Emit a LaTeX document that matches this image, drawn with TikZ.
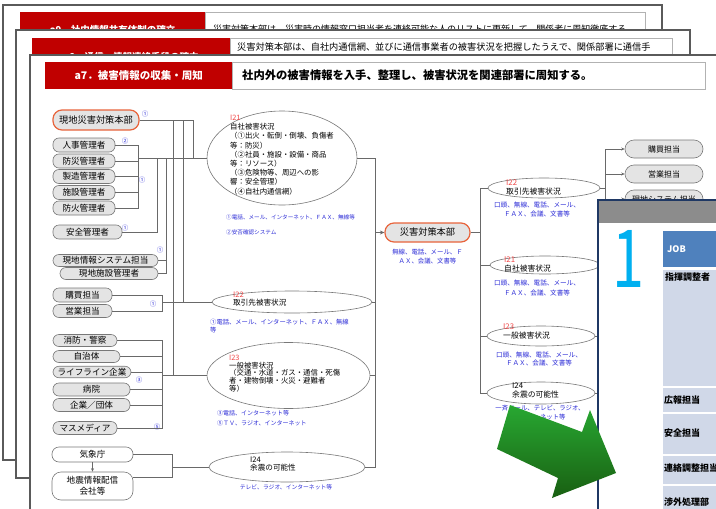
\documentclass[tikz,border=0pt]{standalone}
\usepackage{fontspec}
\setmainfont{Noto Sans CJK JP}
\usetikzlibrary{shapes.geometric,arrows.meta}
\definecolor{hred}{RGB}{192,0,0}
\definecolor{frameg}{RGB}{90,90,90}
\definecolor{nfill}{RGB}{228,228,228}
\definecolor{nborder}{RGB}{120,120,120}
\definecolor{orng}{RGB}{232,100,60}
\definecolor{lblue}{RGB}{45,45,215}
\definecolor{ired}{RGB}{240,70,70}
\definecolor{lineg}{RGB}{105,105,105}
\definecolor{navy}{RGB}{31,56,100}
\definecolor{jobblue}{RGB}{79,129,189}
\definecolor{tbg}{RGB}{208,216,232}
\definecolor{onecyan}{RGB}{0,176,240}
\definecolor{ghead}{RGB}{140,140,140}
\definecolor{arrlight}{RGB}{40,168,50}
\definecolor{arrdark}{RGB}{25,95,18}
\newcommand\fsz[2]{\fontsize{#1}{#2}\selectfont}
\begin{document}
\begin{tikzpicture}[x=1pt,y=-1pt,
  pill/.style={draw=nborder, fill=nfill, rounded corners=6, inner sep=0, line width=0.6, font=\fsz{8.6}{9}},
  hq/.style={pill, draw=orng, line width=1.2, rounded corners=9, font=\fsz{9.2}{10}},
  wbox/.style={draw=nborder, fill=white, rounded corners=7, inner sep=0, line width=0.6, font=\fsz{8.6}{11}, align=center},
  ell/.style={draw=nborder, ellipse, inner sep=0, line width=0.6, fill=white},
  etext/.style={align=left, inner sep=0, font=\fsz{7.4}{9.2}},
  blbl/.style={text=lblue, inner sep=0, font=\fsz{6.3}{8.5}},
  cnum/.style={text=lblue, inner sep=0, font=\fsz{6.5}{7}},
  conn/.style={draw=lineg, line width=0.6},
  rbox/.style={pill, minimum width=78, minimum height=18, rounded corners=9, font=\fsz{8}{9}},
  tip/.style={-{Stealth[length=3.5pt,width=3pt]}},
  hdr/.style={fill=hred, text=white, anchor=north west, inner sep=0, font=\bfseries\fsz{9.5}{10}},
  hdw/.style={draw=gray!60, fill=white, anchor=north west, inner sep=0},
  frame/.style={draw=frameg, line width=1.3, fill=white},
  rowtext/.style={anchor=west, inner sep=0, font=\bfseries\fsz{9}{10}}
]
\useasboundingbox (0,0) rectangle (716,509);
% ---------- background pages ----------
\draw[frame] (3,5) rectangle (662,460);
\node[hdr, minimum width=185, minimum height=36] (h9r) at (20,12) {a9．社内情報共有体制の確立};
\node[hdw, minimum width=440, minimum height=36] (h9w) at (205,12) {};
\node[anchor=west, inner sep=0, font=\fsz{9}{10}] (h9t) at (213,29) {災害対策本部は、災害時の情報窓口担当者を連絡可能な人のリストに更新して、関係者に周知徹底する。};
\draw[frame] (16,30) rectangle (690,478);
\node[hdr, minimum width=198, minimum height=38] (h8r) at (32,38) {a8．通信・情報連絡手段の確立};
\node[hdw, minimum width=442, minimum height=38] (h8w) at (230,38) {};
\node[anchor=west, inner sep=0, font=\fsz{9.2}{10}] (h8t) at (237,47) {災害対策本部は、自社内通信網、並びに通信事業者の被害状況を把握したうえで、関係部署に通信手};
\draw[frame] (30,55) rectangle (740,530);
\node[hdr, minimum width=187, minimum height=27, font=\bfseries\fsz{10.5}{11}] (h7r) at (45,62) {a7．被害情報の収集・周知};
\node[hdw, minimum width=473, minimum height=27] (h7w) at (232,62) {};
\node[anchor=west, inner sep=0, font=\bfseries\fsz{11.3}{12}] (h7t) at (242,75.5) {社内外の被害情報を入手、整理し、被害状況を関連部署に周知する。};
% ---------- left nodes ----------
\node[hq, minimum width=86, minimum height=20] (genchi) at (96,120) {現地災害対策本部};
\node[pill, minimum width=62, minimum height=14] (jinji) at (84,145) {人事管理者};
\node[pill, minimum width=62, minimum height=14] (bousai) at (84,161) {防災管理者};
\node[pill, minimum width=62, minimum height=14] (seizou) at (84,176.5) {製造管理者};
\node[pill, minimum width=62, minimum height=14] (shisetsu) at (84,192.5) {施設管理者};
\node[pill, minimum width=62, minimum height=14] (bouka) at (84,208) {防火管理者};
\node[pill, minimum width=69, minimum height=14] (anzen) at (87.5,232) {安全管理者};
\node[pill, minimum width=105, minimum height=12] (gjsys) at (105.5,260.5) {現地情報システム担当};
\node[pill, minimum width=98, minimum height=12] (gjshi) at (109,273.5) {現地施設管理者};
\node[pill, minimum width=59, minimum height=14] (koubai) at (82.5,295) {購買担当};
\node[pill, minimum width=59, minimum height=13] (eigyou) at (82.5,311) {営業担当};
\node[pill, minimum width=64, minimum height=12] (shoubou) at (85,340.5) {消防・警察};
\node[pill, minimum width=67, minimum height=12] (jichitai) at (86.5,356.5) {自治体};
\node[pill, minimum width=78, minimum height=11.5] (life) at (92,372) {ライフライン企業};
\node[pill, minimum width=77, minimum height=13] (byouin) at (91.5,389.5) {病院};
\node[pill, minimum width=77, minimum height=13] (kigyou) at (91.5,405) {企業／団体};
\node[pill, minimum width=64, minimum height=13] (masu) at (85,428) {マスメディア};
\node[wbox, minimum width=81, minimum height=15] (kishou) at (92.5,454.5) {気象庁};
\node[wbox, minimum width=81, minimum height=28, rounded corners=9] (jishin) at (92.5,486) {地震情報配信\\会社等};
\draw[conn, tip] (kishou) -- (jishin);
% circled numbers
\node[cnum] (c1) at (145,114) {①};
\node[cnum] (c2) at (125,141.5) {②};
\node[cnum] (c3) at (142,180) {①};
\node[cnum] (c4) at (125,228) {①};
\node[cnum] (c5) at (160,250) {①};
\node[cnum] (c6) at (153,304) {①};
\node[cnum] (c7) at (139,380) {③};
\node[cnum] (c8) at (157,427) {⑤};
% ---------- left ellipses ----------
\node[ell, minimum width=150, minimum height=94] (i21) at (282,158) {};
\node[etext] (i21t) at (282,155) {{\color{ired}I21}\\自社被害状況\\（①出火・転倒・倒壊、負傷者\\等：防災）\\（②社員・施設・設備・商品\\等：リソース）\\（③危険物等、周辺への影\\響：安全管理）\\（④自社内通信網）};
\node[blbl, anchor=west, font=\fsz{5.6}{7}] (l21a) at (226,217) {①電話、メール、インターネット、ＦＡＸ、無線等};
\node[blbl, anchor=west, font=\fsz{5.6}{7}] (l21b) at (226,232) {②安否確認システム};
\node[ell, minimum width=160, minimum height=22] (i22l) at (292,302) {};
\node[etext, anchor=west, font=\fsz{7.6}{8.4}] (i22lt) at (233,299) {{\color{ired}I22}\\取引先被害状況};
\node[blbl, anchor=west, align=left] (l22) at (210,326) {①電話、メール、インターネット、ＦＡＸ、無線\\等};
\node[ell, minimum width=163, minimum height=66] (i23l) at (288.5,375.5) {};
\node[etext, anchor=north west, font=\fsz{7.4}{7.9}] (i23lt) at (229,354.5) {{\color{ired}I23}\\一般被害状況\\（交通・水道・ガス・通信・死傷\\者・建物倒壊・火災・避難者\\等）};
\node[blbl, anchor=west, align=left, font=\fsz{6}{10}] (l23) at (217,418) {③電話、インターネット等\\⑤ＴＶ、ラジオ、インターネット};
\node[ell, minimum width=156, minimum height=30] (i24l) at (287,467) {};
\node[etext, anchor=west, font=\fsz{7.6}{8.2}] (i24lt) at (250,464) {I24\\余震の可能性};
\node[blbl, font=\fsz{5.8}{7}] (l24) at (286,487) {テレビ、ラジオ、インターネット等};
% ---------- left connectors ----------
\coordinate (j1) at (138,158);
\foreach \nd in {jinji,bousai,seizou,shisetsu,bouka} \draw[conn] (\nd.east) -| (j1);
\draw[conn] (j1) -- (i21.west);
\coordinate (j2) at (157,158);
\draw[conn] (anzen.east) -| (j2);
\coordinate (j3) at (166,158);
\draw[conn] (gjsys.east) -| (j3);
\draw[conn] (gjshi.east) -| (j3);
\coordinate (j4) at (193,158);
\draw[conn] (genchi.east) -| (j4);
\coordinate (j5) at (183,302);
\draw[conn] (genchi.east) -| (j5);
\coordinate (j6) at (173,375.5);
\draw[conn] (genchi.east) -| (j6);
\coordinate (j7) at (162,302);
\draw[conn] (koubai.east) -| (j7);
\draw[conn] (eigyou.east) -| (j7);
\draw[conn] (j7) -- (i22l.west);
\coordinate (j8) at (162,375.5);
\foreach \nd in {shoubou,jichitai,life,byouin,kigyou,masu} \draw[conn] (\nd.east) -| (j8);
\draw[conn] (j8) -- (i23l.west);
\coordinate (j9) at (172,467);
\draw[conn] (kishou.east) -| (j9);
\draw[conn] ([yshift=9pt]jishin.east) -| (j9);
\draw[conn] (j9) -- (i24l.west);
% ---------- central bus ----------
\coordinate (r1) at (375,158);
\coordinate (r2) at (375,302);
\coordinate (r3) at (375,375.5);
\coordinate (r4) at (375,467);
\coordinate (r5) at (375,232.5);
\draw[conn] (i21.east) -- (r1) -- (r4) -- (i24l.east);
\draw[conn] (i22l.east) -- (r2);
\draw[conn] (i23l.east) -- (r3);
\node[hq, minimum width=85, minimum height=19] (honbu) at (427.5,232.5) {災害対策本部};
\draw[conn, -{Stealth[length=4.5pt,width=4pt]}] (r5) -- (honbu.west);
\node[blbl, align=center, font=\fsz{6.4}{9}] (lhq) at (427.5,256.5) {無線、電話、メール、Ｆ\\ＡＸ、会議、文書等};
% ---------- right ellipses ----------
\node[ell, minimum width=112, minimum height=20] (i22r) at (544,188) {};
\node[etext, anchor=west, font=\fsz{7.8}{9}] (i22rt) at (506,187.5) {{\color{ired}I22}\\取引先被害状況};
\node[blbl, align=center, font=\fsz{6.6}{9}] (lr22) at (537,209.5) {口頭、無線、電話、メール、\\ＦＡＸ、会議、文書等};
\node[ell, minimum width=110, minimum height=18] (i21r) at (545,265) {};
\node[etext, anchor=west, font=\fsz{7.8}{9}] (i21rt) at (504,264.5) {{\color{ired}I21}\\自社被害状況};
\node[blbl, align=center, font=\fsz{6.6}{9.5}] (lr21) at (537,288) {口頭、無線、電話、メール、\\ＦＡＸ、会議、文書等};
\node[ell, minimum width=108, minimum height=20] (i23r) at (541,336) {};
\node[etext, anchor=west, font=\fsz{7.8}{9}] (i23rt) at (503,331) {{\color{ired}I23}\\一般被害状況};
\node[blbl, align=center, font=\fsz{6.6}{8.5}] (lr23) at (539,359) {口頭、無線、電話、メール、\\ＦＡＸ、会議、文書等};
\node[ell, minimum width=108, minimum height=22] (i24r) at (541,393) {};
\node[etext, anchor=west, font=\fsz{7.8}{9}] (i24rt) at (512,390.5) {I24\\余震の可能性};
\node[blbl, align=center, font=\fsz{6.4}{9}] (lr24) at (540,412.5) {一斉メール、テレビ、ラジオ、\\インターネット等};
\coordinate (s0) at (480,232.5);
\coordinate (s1) at (480,188);
\coordinate (s2) at (480,265);
\coordinate (s3) at (480,336);
\coordinate (s4) at (480,393);
\draw[conn] (honbu.east) -- (s0);
\draw[conn] (s1) -- (s4);
\draw[conn] (s1) -- (i22r.west);
\draw[conn] (s2) -- (i21r.west);
\draw[conn] (s3) -- (i23r.west);
\draw[conn] (s4) -- (i24r.west);
% right boxes
\node[rbox] (rb1) at (664,149) {購買担当};
\node[rbox] (rb2) at (664,174) {営業担当};
\node[rbox] (rb3) at (664,199) {現地システム担当};
\coordinate (t0) at (605,188);
\draw[conn] (i22r.east) -- (t0);
\draw[conn, tip] (t0) |- (rb1.west);
\draw[conn, tip] (t0) |- (rb2.west);
\draw[conn, tip] (t0) |- (rb3.west);
\coordinate (t2) at (610,265);
\coordinate (t3) at (610,336);
\coordinate (t4) at (610,393);
\draw[conn] (i21r.east) -- (t2);
\draw[conn] (i23r.east) -- (t3);
\draw[conn] (i24r.east) -- (t4);
% ---------- overlay page ----------
\draw[navy, line width=1.6, fill=white] (598,200) rectangle (730,520);
\fill[ghead] (599,201) rectangle (720,223);
\node[text=onecyan, font=\fsz{80}{80}, inner sep=0, anchor=base] (one) at (628,287) {\scalebox{0.72}[1]{1}};
\node[fill=jobblue, anchor=north west, minimum width=60, minimum height=36, inner sep=0] (job) at (663,231) {};
\node[text=white, font=\bfseries\fsz{9}{10}, anchor=west, inner sep=0] (jobt) at (667,249) {JOB};
\fill[tbg] (663,270) rectangle (720,515);
\foreach \yy in {387,413,455,485} \draw[white, line width=2] (663,\yy) -- (720,\yy);
\node[rowtext] (row1) at (665,277) {指揮調整者};
\node[rowtext] (row2) at (664,400) {広報担当};
\node[rowtext] (row3) at (664,433) {安全担当};
\node[rowtext] (row4) at (664,468) {連絡調整担当};
\node[rowtext] (row5) at (664,502) {渉外処理部};
% ---------- green arrow ----------
\shade[top color=arrlight, bottom color=arrdark] (510,405) -- (582,432) -- (590,410) -- (616,473) -- (552,498) -- (558,478) -- (497,449) -- cycle;
\end{tikzpicture}
\end{document}
